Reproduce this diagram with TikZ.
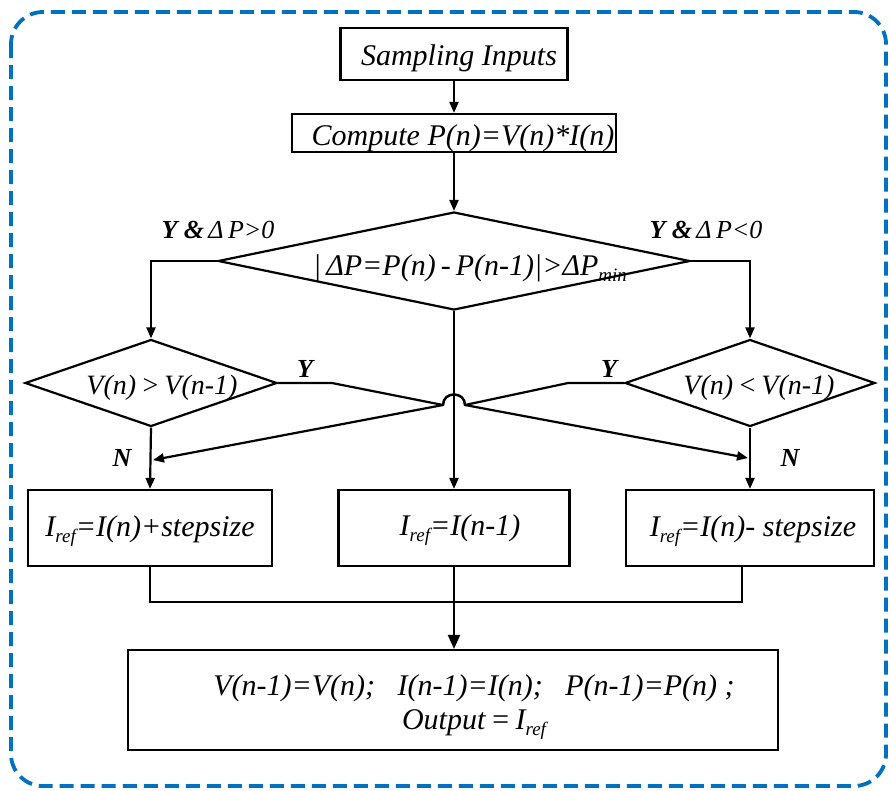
\documentclass[tikz,border=0pt]{standalone}
\usepackage{fontspec}
\setmainfont{Liberation Serif}
\usetikzlibrary{arrows.meta,shapes.geometric}
\definecolor{frameblue}{RGB}{0,112,192}
\newcommand{\subr}[1]{\raisebox{-0.45ex}{\fontsize{19}{19}\selectfont #1}}
\begin{document}
\begin{tikzpicture}[x=1pt,y=-1pt,
  every node/.style={inner sep=0pt},
  txt/.style={font=\fontsize{30}{34}\selectfont\itshape},
  stxt/.style={font=\fontsize{28}{32}\selectfont\itshape},
  box/.style={draw, line width=2.2pt, rectangle},
  dia/.style={draw, line width=2.2pt, diamond, inner sep=0pt},
  line/.style={line width=2.2pt},
  arr/.style={line width=2.2pt, -{Triangle[length=11pt,width=9pt]}},
  bigarr/.style={line width=2.2pt, -{Triangle[length=14pt,width=12pt]}},
  lbl/.style={font=\fontsize{26}{30}\selectfont\itshape}
]
\useasboundingbox (0,0) rectangle (890,790);
% frame
\draw[frameblue, line width=3.8pt, dash pattern=on 14pt off 7pt, rounded corners=32pt]
  (11,12) rectangle (886,786);

% boxes
\node[box, minimum width=227pt, minimum height=52pt,
  label={[txt,xshift=5pt,yshift=-4pt]center:Sampling Inputs}] (samp) at (454,54) {};
\node[box, minimum width=324pt, minimum height=38pt,
  label={[txt,xshift=9pt,yshift=-5pt]center:Compute P(n)=V(n)*I(n)}] (comp) at (454,133) {};

\node[dia, minimum width=472pt, minimum height=98pt,
  label={[txt,xshift=16pt,yshift=-7pt]center:{|\,ΔP=P(n)\,-\,P(n-1)|>ΔP\subr{min}}}] (bd) at (454,261) {};
\node[dia, minimum width=252pt, minimum height=87pt,
  label={[stxt,xshift=11pt,yshift=-5pt]center:{V(n)\,>\,V(n-1)}}] (ld) at (151,383) {};
\node[dia, minimum width=250pt, minimum height=87pt,
  label={[stxt,xshift=9pt,yshift=-5pt]center:{V(n)\,<\,V(n-1)}}] (rd) at (750,383) {};

\node[box, minimum width=244pt, minimum height=76pt,
  label={[txt,yshift=-3pt]center:{I\subr{ref}=I(n)+stepsize}}] (lbox) at (150,528) {};
\node[box, minimum width=231pt, minimum height=76pt,
  label={[txt,xshift=6pt,yshift=-2pt]center:{I\subr{ref}=I(n-1)}}] (cbox) at (454,528) {};
\node[box, minimum width=248pt, minimum height=76pt,
  label={[txt,xshift=3pt,yshift=-3pt]center:{I\subr{ref}=I(n)- stepsize}}] (rbox) at (750,528) {};

\node[box, minimum width=650pt, minimum height=100pt,
  label={[txt,align=center,xshift=21pt,yshift=-7pt]center:{V(n-1)=V(n);\ \ \ I(n-1)=I(n);\ \ \ P(n-1)=P(n)\ ;\\[0pt]Output\,=\,I\subr{ref}}}] (out) at (453,700) {};

% labels
\node[lbl] (l1) at (218,230) {\textbf{Y \&\,}Δ\,P>0};
\node[lbl] (l2) at (706,230) {\textbf{Y \&\,}Δ\,P<0};
\node[lbl] (y1) at (305,369) {\textbf{Y}};
\node[lbl] (y2) at (609,369) {\textbf{Y}};
\node[lbl] (n1) at (122,458) {\textbf{N}};
\node[lbl] (n2) at (790,458) {\textbf{N}};

% coordinates
\coordinate (ya) at (332,383);
\coordinate (yb) at (568,383);
\coordinate (hl) at (443,405);
\coordinate (hr) at (465,405);
\coordinate (tl) at (153,460);
\coordinate (tr) at (748,458);
\coordinate (mL) at (150,602);
\coordinate (mR) at (742,602);
\coordinate (rb) at (742,566);

% connectors
\draw[arr] (samp.south) -- (comp.north);
\draw[arr] (comp.south) -- (bd.north);
\draw[arr] (bd.west) -| (ld.north);
\draw[arr] (bd.east) -| (rd.north);
\draw[arr] (bd.south) -- (cbox.north);
\draw[arr] (ld.south) -- (lbox.north);
\draw[arr] (rd.south) -- (rbox.north);
\draw[arr, line join=round] (ld.east) -- (ya) -- (hl) .. controls (443,391) and (465,391) .. (hr) -- (tr);
\draw[arr, line join=round] (rd.west) -- (yb) -- (hr) .. controls (465,391) and (443,391) .. (hl) -- (tl);
\draw[line] (lbox.south) -- (mL) -- (mR) -- (rb);
\draw[bigarr] (cbox.south) -- (cbox.south |- out.north);
\end{tikzpicture}
\end{document}
